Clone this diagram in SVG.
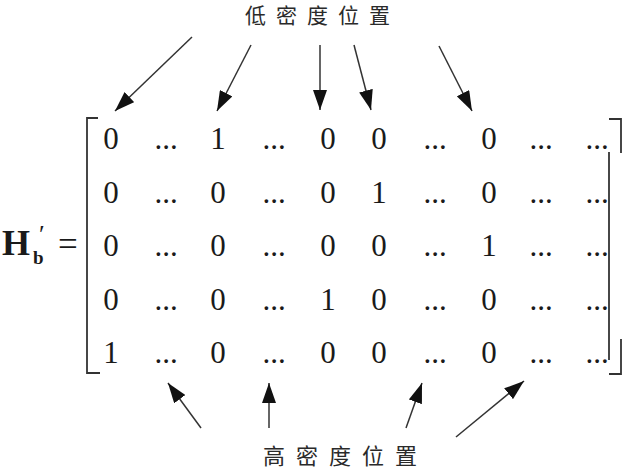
<svg xmlns="http://www.w3.org/2000/svg" width="630" height="470" viewBox="0 0 630 470">
<style>
.m{font-family:"Liberation Serif","Times New Roman",serif;font-size:31px;fill:#1a1a1a;text-anchor:middle}
.cjk{font-family:"Noto Sans CJK TC","Noto Sans CJK SC",sans-serif;fill:#2a2a2a}
.br{fill:none;stroke:#333;stroke-width:1.8}
.ar{fill:none;stroke:#333;stroke-width:1.5;marker-end:url(#ah)}
</style>
<defs>
<marker id="ah" markerUnits="userSpaceOnUse" markerWidth="21" markerHeight="14" refX="20" refY="7" orient="auto">
<path d="M0,0 L20,7 L0,14 Z" fill="#111"/>
</marker>
</defs>
<rect width="630" height="470" fill="#fff"/>
<g id="label-low">
<text class="cjk" x="245" y="23" font-size="21" letter-spacing="10">低密度位置</text>
</g>
<g id="label-high">
<text class="cjk" x="263" y="464" font-size="22" letter-spacing="11">高密度位置</text>
</g>
<g id="lhs">
<text x="2" y="255" font-family="Liberation Serif,serif" font-weight="bold" font-size="36" fill="#1a1a1a">H</text>
<text x="33" y="264" font-family="Liberation Serif,serif" font-weight="bold" font-size="19" fill="#1a1a1a">b</text>
<text x="39" y="243" font-family="Liberation Serif,serif" font-size="26" fill="#1a1a1a">′</text>
<text x="58" y="256" font-family="Liberation Serif,serif" font-size="35" fill="#1a1a1a">=</text>
</g>
<g id="matrix">
<path class="br" d="M98,118 H87 V373 H100"/>
<path class="br" d="M609,119 H621 V153"/>
<path class="br" d="M609,152 V360"/>
<path class="br" d="M621,339 V374 H609"/>
<g class="m">
<text y="149"><tspan x="111">0</tspan><tspan x="166">...</tspan><tspan x="218">1</tspan><tspan x="274">...</tspan><tspan x="328">0</tspan><tspan x="379">0</tspan><tspan x="435">...</tspan><tspan x="489">0</tspan><tspan x="541">...</tspan><tspan x="597">...</tspan></text>
<text y="202.5"><tspan x="111">0</tspan><tspan x="166">...</tspan><tspan x="218">0</tspan><tspan x="274">...</tspan><tspan x="328">0</tspan><tspan x="379">1</tspan><tspan x="435">...</tspan><tspan x="489">0</tspan><tspan x="541">...</tspan><tspan x="597">...</tspan></text>
<text y="256"><tspan x="111">0</tspan><tspan x="166">...</tspan><tspan x="218">0</tspan><tspan x="274">...</tspan><tspan x="328">0</tspan><tspan x="379">0</tspan><tspan x="435">...</tspan><tspan x="489">1</tspan><tspan x="541">...</tspan><tspan x="597">...</tspan></text>
<text y="309.5"><tspan x="111">0</tspan><tspan x="166">...</tspan><tspan x="218">0</tspan><tspan x="274">...</tspan><tspan x="328">1</tspan><tspan x="379">0</tspan><tspan x="435">...</tspan><tspan x="489">0</tspan><tspan x="541">...</tspan><tspan x="597">...</tspan></text>
<text y="363"><tspan x="111">1</tspan><tspan x="166">...</tspan><tspan x="218">0</tspan><tspan x="274">...</tspan><tspan x="328">0</tspan><tspan x="379">0</tspan><tspan x="435">...</tspan><tspan x="489">0</tspan><tspan x="541">...</tspan><tspan x="597">...</tspan></text>
</g>
</g>
<g id="connectors">
<line class="ar" x1="192" y1="37" x2="115" y2="111"/>
<line class="ar" x1="251" y1="45" x2="217" y2="111"/>
<line class="ar" x1="320" y1="45" x2="320" y2="110"/>
<line class="ar" x1="354" y1="45" x2="371" y2="110"/>
<line class="ar" x1="439" y1="46" x2="472" y2="111"/>
<line class="ar" x1="201" y1="428" x2="168" y2="383"/>
<line class="ar" x1="269" y1="428" x2="269" y2="383"/>
<line class="ar" x1="406" y1="428" x2="422" y2="383"/>
<line class="ar" x1="456" y1="437" x2="524" y2="381"/>
</g>
</svg>
